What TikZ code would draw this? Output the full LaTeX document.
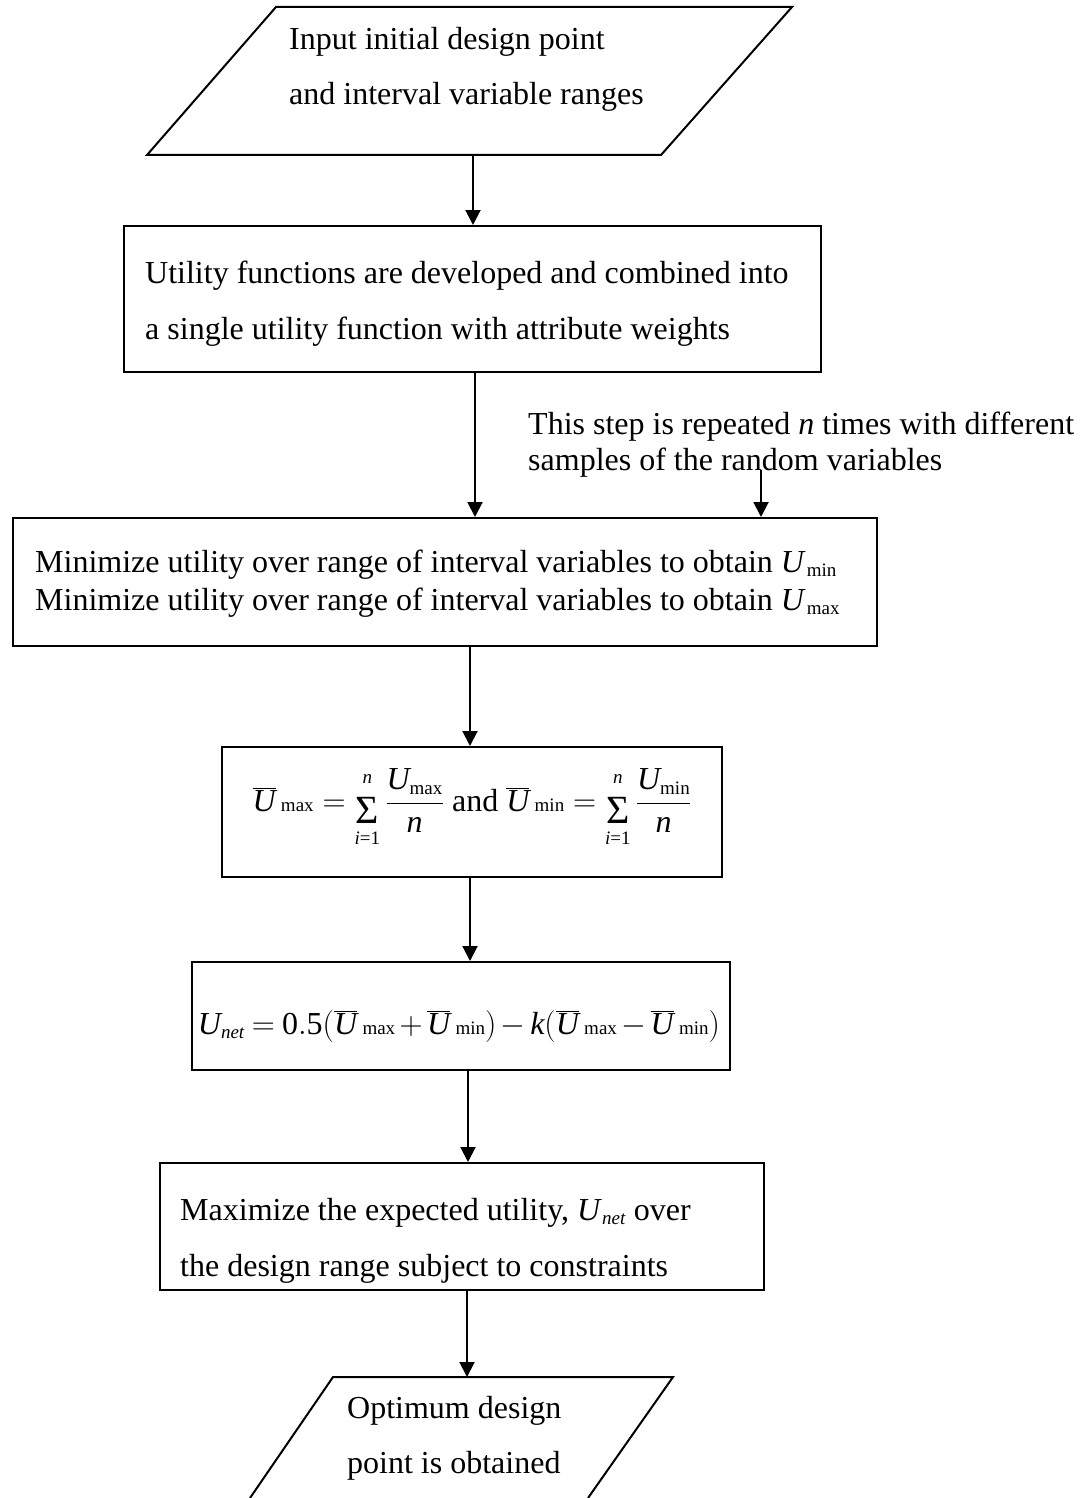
\RequirePackage{fix-cm}
\documentclass[tikz,border=0pt]{standalone}
\usepackage{fontspec}
\setmainfont{Liberation Serif}
\usetikzlibrary{arrows.meta}

\newcommand{\Uv}{\mathit{U}}
\newcommand{\smt}[1]{\mbox{\fontsize{19}{19}\selectfont #1}}
\newcommand{\smi}[1]{\mbox{\fontsize{19}{19}\selectfont\itshape #1}}
\newcommand{\Ubr}[1]{\overline{\Uv}\,\smt{#1}}
\newcommand{\dfr}[2]{{\displaystyle\frac{#1}{#2}}}
\newcommand{\Sg}{\mathop{\raisebox{-12pt}{\fontsize{40}{40}\selectfont Σ}}\limits_{\rule{0pt}{20pt}\smi{i}\smt{=1}}^{\smi{n}\rule[-12pt]{0pt}{1pt}}}

\tikzset{
  box/.style={draw, line width=2pt, inner sep=0pt},
  txt/.style={anchor=base west, inner sep=0pt},
  formula/.style={anchor=base, inner sep=0pt},
  arr/.style={line width=2pt, -{Triangle[length=15pt,width=15pt]}},
  shapeline/.style={line width=2pt, line join=miter}
}

\begin{document}
\begin{tikzpicture}[x=1pt,y=-1pt,font=\fontsize{32}{38}\selectfont]
\useasboundingbox (0,0) rectangle (1086,1498);

% top parallelogram
\coordinate (p1tl) at (276,7);
\coordinate (p1tr) at (792,7);
\coordinate (p1br) at (661,155);
\coordinate (p1bl) at (147,155);
\draw[shapeline] (p1tl) -- (p1tr) -- (p1br) -- (p1bl) -- cycle;
\coordinate (p1out) at (473,155);
\node[txt] (t1a) at (289,50) {Input initial design point};
\node[txt] (t1b) at (289,105) {and interval variable ranges};

% box 1
\node[box, minimum width=697pt, minimum height=146pt] (b1) at (472.5,299) {};
\node[txt] (t2a) at (145,283) {Utility functions are developed and combined into};
\node[txt] (t2b) at (145,339) {a single utility function with attribute weights};

% note
\node[txt] (n1) at (528,434) {This step is repeated \textit{n} times with different};
\node[txt] (n2) at (528,470) {samples of the random variables};
\coordinate (nstart) at (761,470);

% box 2
\node[box, minimum width=864pt, minimum height=128pt] (b2) at (445,582) {};
\node[txt] (t3a) at (35,572) {Minimize utility over range of interval variables to obtain $\Uv_{\hspace{3pt}\smt{min}}$};
\node[txt] (t3b) at (35,610) {Minimize utility over range of interval variables to obtain $\Uv_{\hspace{3pt}\smt{max}}$};

% box 3
\node[box, minimum width=500pt, minimum height=130pt] (b3) at (472,812) {};
\node[formula] (f1) at (472,811) {$\Ubr{max} = \Sg\dfr{\Uv_{\smt{max}}}{\mathit{n}}$ and $\Ubr{min} = \Sg\dfr{\Uv_{\smt{min}}}{\mathit{n}}$};

% box 4
\node[box, minimum width=538pt, minimum height=108pt] (b4) at (461,1016) {};
\node[formula] (f2) at (459,1034) {\thickmuskip=4mu\medmuskip=2.5mu$\Uv_{\smi{net}} = \mathrm{0.5}(\Ubr{max} + \Ubr{min}) - \mathit{k}(\Ubr{max} - \Ubr{min})$};

% box 5
\node[box, minimum width=604pt, minimum height=127pt] (b5) at (462,1226.5) {};
\node[txt] (t5a) at (180,1220) {Maximize the expected utility, $\Uv_{\hspace{2pt}\smi{net}}$ over};
\node[txt] (t5b) at (180,1276) {the design range subject to constraints};

% bottom parallelogram
\coordinate (p2bl) at (250,1498);
\coordinate (p2tl) at (333,1377);
\coordinate (p2tr) at (673,1377);
\coordinate (p2br) at (588,1498);
\draw[shapeline] (p2bl) -- (p2tl) -- (p2tr) -- (p2br);
\coordinate (p2in) at (467,1377);
\node[txt] (t6a) at (347,1418) {Optimum design};
\node[txt] (t6b) at (347,1473) {point is obtained};

% connectors
\draw[arr] (p1out) -- (p1out |- b1.north);
\draw[arr] (b1.south -| 475,0) -- (b2.north -| 475,0);
\draw[arr] (nstart) -- (nstart |- b2.north);
\draw[arr] (b2.south -| 470,0) -- (b3.north -| 470,0);
\draw[arr] (b3.south -| 470,0) -- (b4.north -| 470,0);
\draw[arr] (b4.south -| 468,0) -- (b5.north -| 468,0);
\draw[arr] (b5.south -| p2in) -- (p2in);
\end{tikzpicture}
\end{document}
